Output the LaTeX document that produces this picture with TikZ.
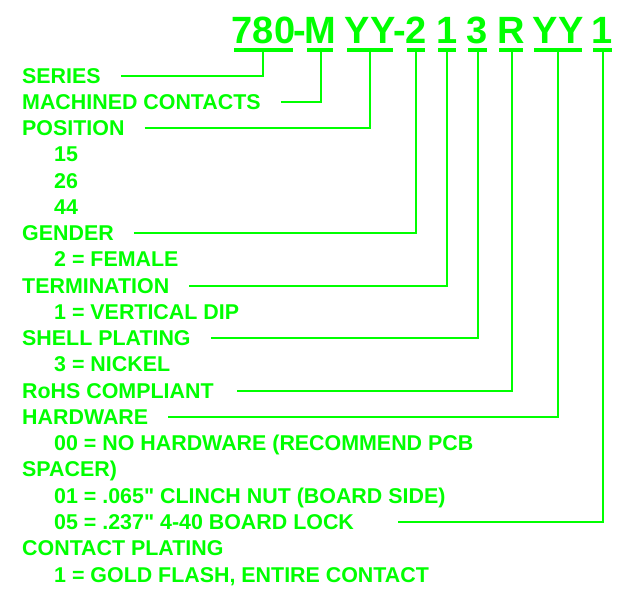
\documentclass[tikz,border=0pt]{standalone}
\usepackage{fontspec}
\newfontfamily\lbl{Liberation Sans}
\definecolor{pgreen}{RGB}{0,255,0}
\begin{document}
\begin{tikzpicture}[x=1pt,y=-1pt,
  lab/.style={anchor=base west,inner sep=0pt,text=pgreen,font=\lbl\bfseries\fontsize{21.4}{24}\selectfont},
  big/.style={anchor=base,inner sep=0pt,text=pgreen,font=\lbl\bfseries\fontsize{38}{40}\selectfont},
  uline/.style={draw=pgreen,line width=3.3pt},
  conn/.style={draw=pgreen,line width=2pt}]
\useasboundingbox (0,0) rectangle (623,589);
% part number pieces
\node[big] (p780) at (263.5,43.5) {780};
\node[big] (h1)   at (300,43.5) {-};
\node[big] (pM)   at (320,43.5) {M};
\node[big] (pYYa) at (370,43.5) {YY};
\node[big] (h2)   at (400,43.5) {-};
\node[big] (p2)   at (416,43.5) {2};
\node[big] (p1a)  at (447,43.5) {1};
\node[big] (p3)   at (477.5,43.5) {3};
\node[big] (pR)   at (511,43.5) {R};
\node[big] (pYYb) at (558,43.5) {YY};
\node[big] (p1b)  at (602.5,43.5) {1};
% underlines
\draw[uline] (234,50) -- (293,50);
\draw[uline] (307,50) -- (333,50);
\draw[uline] (347,50) -- (393,50);
\draw[uline] (407,50) -- (425,50);
\draw[uline] (438,50) -- (456,50);
\draw[uline] (468,50) -- (487,50);
\draw[uline] (499,50) -- (523,50);
\draw[uline] (534,50) -- (582,50);
\draw[uline] (593,50) -- (612,50);
\coordinate (c780) at (263,50);
\coordinate (cM)   at (321,50);
\coordinate (cYYa) at (370,50);
\coordinate (c2)   at (416,50);
\coordinate (c1a)  at (447,50);
\coordinate (c3)   at (478,50);
\coordinate (cR)   at (512,50);
\coordinate (cYYb) at (558,50);
\coordinate (c1b)  at (603,50);
% labels
\node[lab] (series) at (22,83) {SERIES};
\node[lab] (mach)   at (22,109.3) {MACHINED CONTACTS};
\node[lab] (pos)    at (22,135.5) {POSITION};
\node[lab] (p15)    at (54,161.8) {15};
\node[lab] (p26)    at (54,188) {26};
\node[lab] (p44)    at (54,214.3) {44};
\node[lab] (gender) at (22,240.6) {GENDER};
\node[lab] (fem)    at (54,266.8) {2 = FEMALE};
\node[lab] (term)   at (22,293.1) {TERMINATION};
\node[lab] (vdip)   at (54,319.3) {1 = VERTICAL DIP};
\node[lab] (shell)  at (22,345.6) {SHELL PLATING};
\node[lab] (nick)   at (54,371.9) {3 = NICKEL};
\node[lab] (rohs)   at (22,398.1) {RoHS COMPLIANT};
\node[lab] (hw)     at (22,424.4) {HARDWARE};
\node[lab] (h00)    at (54,450.6) {00 = NO HARDWARE (RECOMMEND PCB};
\node[lab] (spacer) at (22,476.9) {SPACER)};
\node[lab] (h01)    at (54,503.2) {01 = .065" CLINCH NUT (BOARD SIDE)};
\node[lab] (h05)    at (54,529.4) {05 = .237" 4-40 BOARD LOCK};
\node[lab] (cplat)  at (22,555.7) {CONTACT PLATING};
\node[lab] (gold)   at (54,582) {1 = GOLD FLASH, ENTIRE CONTACT};
% connectors
\coordinate (sR) at (237,390.6);
\coordinate (s05) at (398,522);
\draw[conn] ([xshift=20pt,yshift=7.5pt]series.base east) -| (c780);
\draw[conn] ([xshift=20pt,yshift=7.5pt]mach.base east) -| (cM);
\draw[conn] ([xshift=20pt,yshift=7.5pt]pos.base east) -| (cYYa);
\draw[conn] ([xshift=20pt,yshift=7.5pt]gender.base east) -| (c2);
\draw[conn] ([xshift=20pt,yshift=7.5pt]term.base east) -| (c1a);
\draw[conn] ([xshift=20pt,yshift=7.5pt]shell.base east) -| (c3);
\draw[conn] (sR) -| (cR);
\draw[conn] ([xshift=20pt,yshift=7.5pt]hw.base east) -| (cYYb);
\draw[conn] (s05) -| (c1b);
\end{tikzpicture}
\end{document}
